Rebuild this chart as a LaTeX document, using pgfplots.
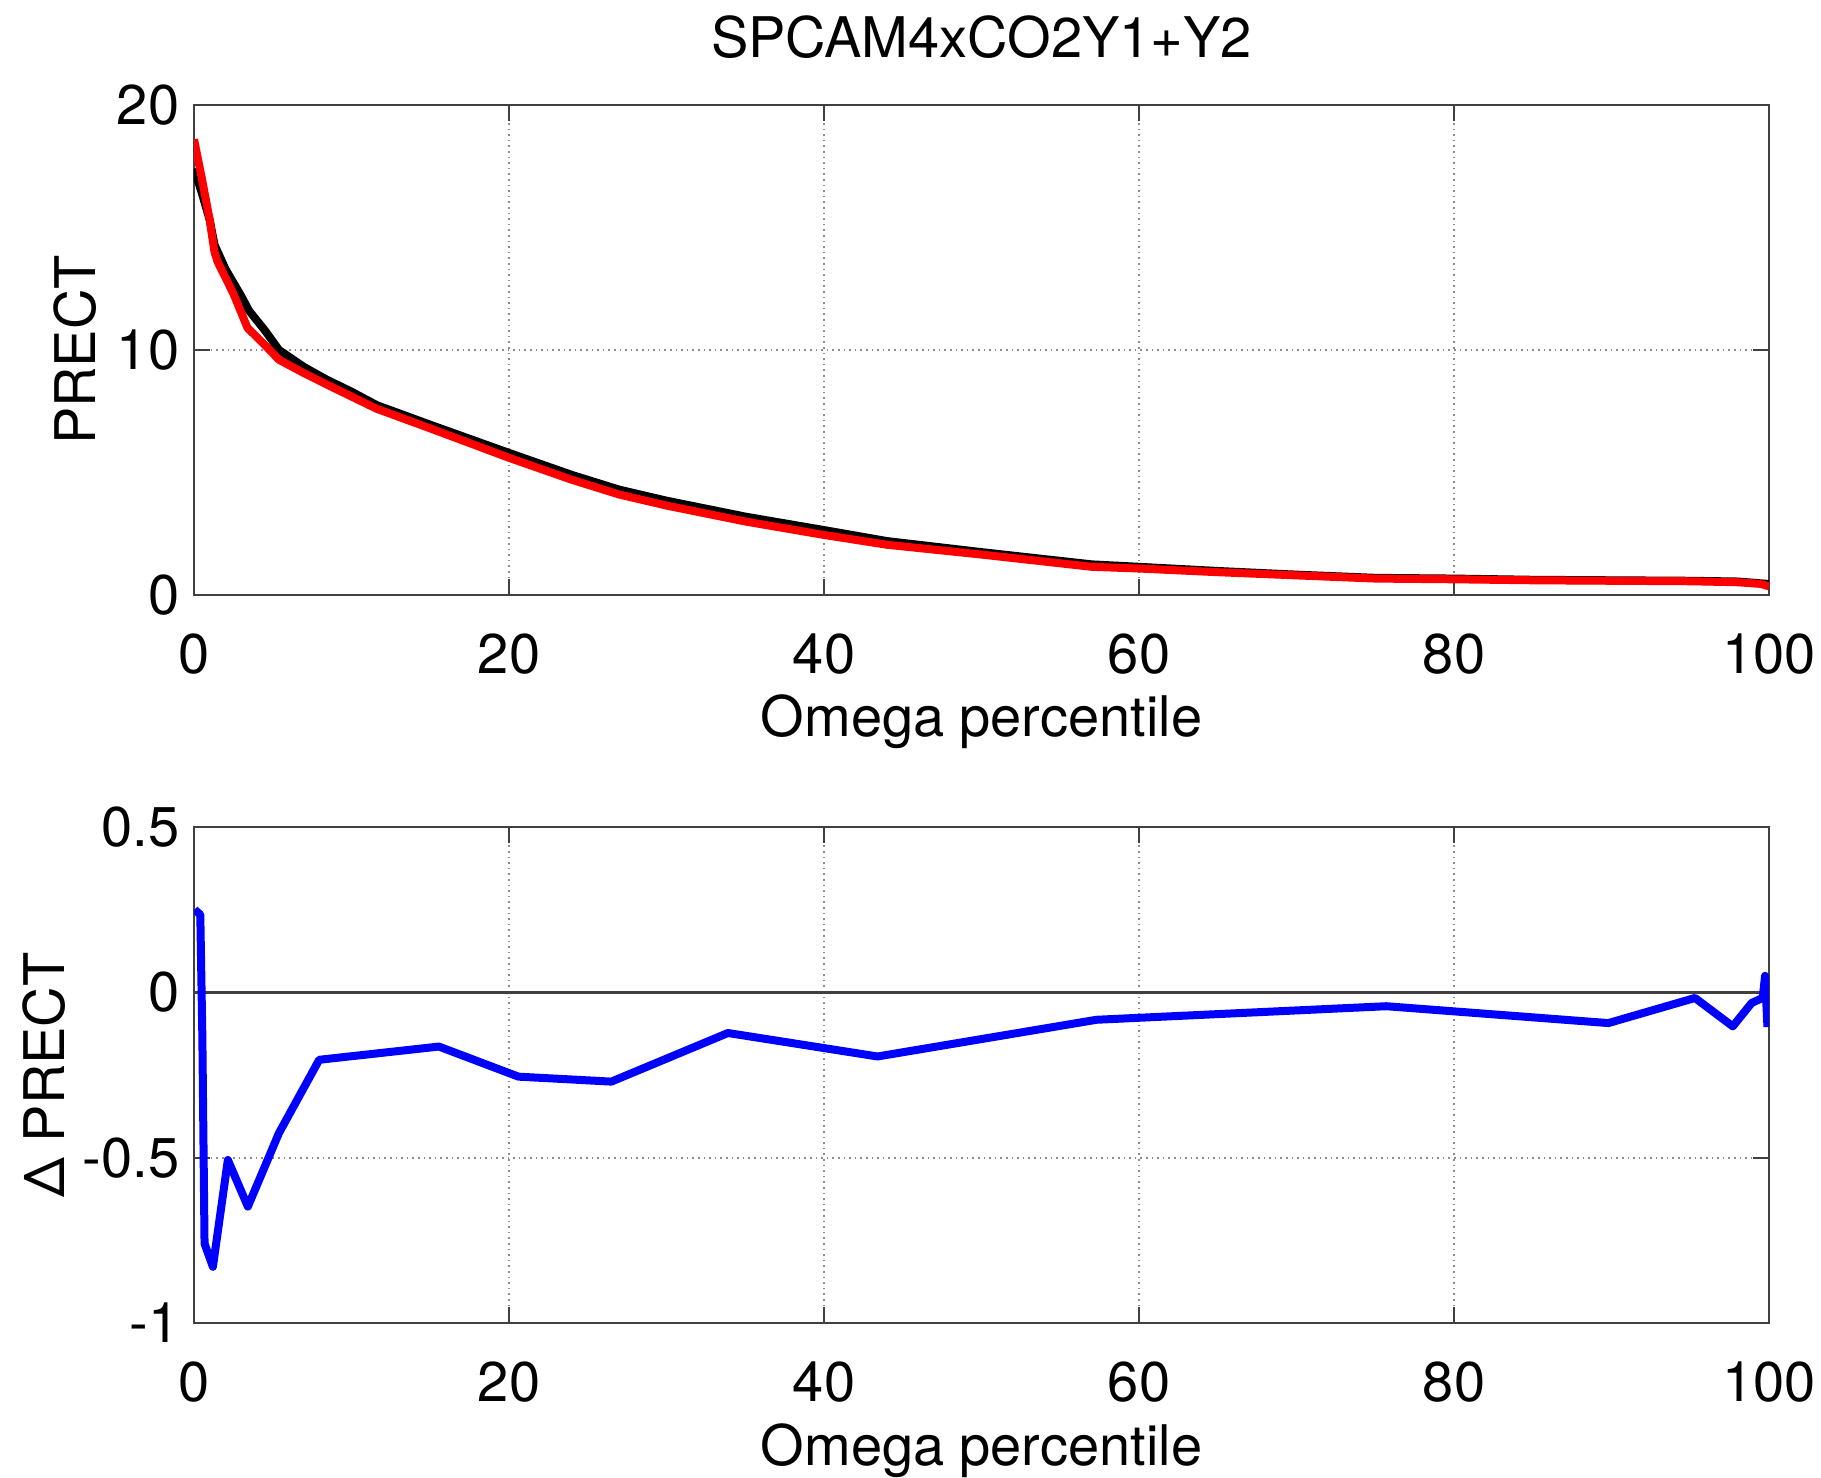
\documentclass[border=0pt]{standalone}
\usepackage{fontspec}
\setmainfont{TeX Gyre Heros}
\usepackage{pgfplots}
\pgfplotsset{compat=1.18}
\begin{document}
\begin{tikzpicture}
\path (-48.5pt,-220.25pt) rectangle (406.75pt,148.75pt);
\pgfplotsset{
 every axis/.append style={
  scale only axis, width=393.75pt, xmin=0, xmax=100, xtick={0,20,...,100},
  font=\fontsize{14}{16.8}\selectfont,
  tick align=inside, major tick length=4pt,
  grid=major, major grid style={densely dotted, black!45, line width=0.5pt},
  axis line style={black!75, line width=0.5pt}, tick style={black!75, line width=0.5pt},
  /pgf/number format/assume math mode=true,
  xticklabel style={anchor=base, inner sep=0pt, yshift=-19.75pt},
  yticklabel style={anchor=east, inner sep=0pt, xshift=-3.5pt},
  xlabel={Omega percentile},
 },
 every axis x label/.style={at={(axis description cs:0.5,0)}, anchor=base, inner sep=0pt, yshift=-35.5pt},
 every axis title/.style={at={(axis description cs:0.5,1)}, anchor=base, inner sep=0pt, yshift=11.75pt},
}
\begin{axis}[name=top, at={(0pt,0pt)}, anchor=south west, height=122.5pt,
  ymin=0, ymax=20, ytick={0,10,20},
  ylabel={PRECT}, ylabel style={at={(axis description cs:-0.0756,0.5)}, anchor=center, inner sep=0pt},
  title={SPCAM4xCO2Y1+Y2}]
\addplot[black, line width=2pt, line join=round] coordinates {
(0,17.4) (0.5,16.4) (1.0,15.3) (1.3,14.3) (2,13.3) (3,12.2) (3.5,11.6) (4.5,10.8) (5.4,10.0)
(7,9.3) (8.4,8.8) (10,8.3) (11.6,7.75) (15,6.95) (20,5.8) (24,4.9) (27,4.3) (30,3.85) (35,3.2)
(40,2.65) (44,2.2) (50,1.75) (57,1.25) (60,1.15) (65,0.98) (70,0.83) (75,0.7) (80,0.67) (85,0.62)
(90,0.6) (95,0.58) (98,0.55) (100,0.45)};
\addplot[red, line width=2pt, line join=round] coordinates {
(0,18.6) (0.5,17.0) (1.0,15.3) (1.3,14.0) (1.5,13.6) (2.5,12.3) (3.4,10.9) (4.5,10.2) (5.4,9.6)
(7,9.05) (8.4,8.6) (10,8.1) (11.6,7.6) (15,6.8) (20,5.6) (24,4.7) (27,4.1) (30,3.65) (35,3.0)
(40,2.45) (44,2.05) (50,1.65) (57,1.15) (60,1.08) (65,0.93) (70,0.8) (75,0.67) (80,0.64) (85,0.6)
(90,0.58) (95,0.56) (98,0.52) (99.5,0.45) (100,0.35)};
\end{axis}
\begin{axis}[at={(0pt,-182pt)}, anchor=south west, height=124pt,
  ymin=-1, ymax=0.5, ytick={-1,-0.5,0,0.5}, yticklabels={-1,-0.5,0,0.5},
  ylabel={Δ PRECT}, ylabel style={at={(axis description cs:-0.0952,0.5)}, anchor=center, inner sep=0pt}]
\addplot[black!75, line width=0.6pt, forget plot] coordinates {(0,0) (100,0)};
\addplot[blue, line width=2pt, line join=round] coordinates {
(0.04,0.25) (0.4,0.235) (0.53,-0.133) (0.67,-0.76) (1.2,-0.83) (2.15,-0.507) (3.42,-0.648)
(5.4,-0.425) (7.95,-0.204) (15.55,-0.164) (20.6,-0.255) (26.5,-0.27) (33.9,-0.123) (43.4,-0.194)
(57.3,-0.083) (75.7,-0.042) (89.8,-0.093) (95.3,-0.017) (97.7,-0.103) (98.9,-0.032) (99.6,-0.017)
(99.75,0.05) (99.9,-0.105)};
\end{axis}
\end{tikzpicture}
\end{document}
